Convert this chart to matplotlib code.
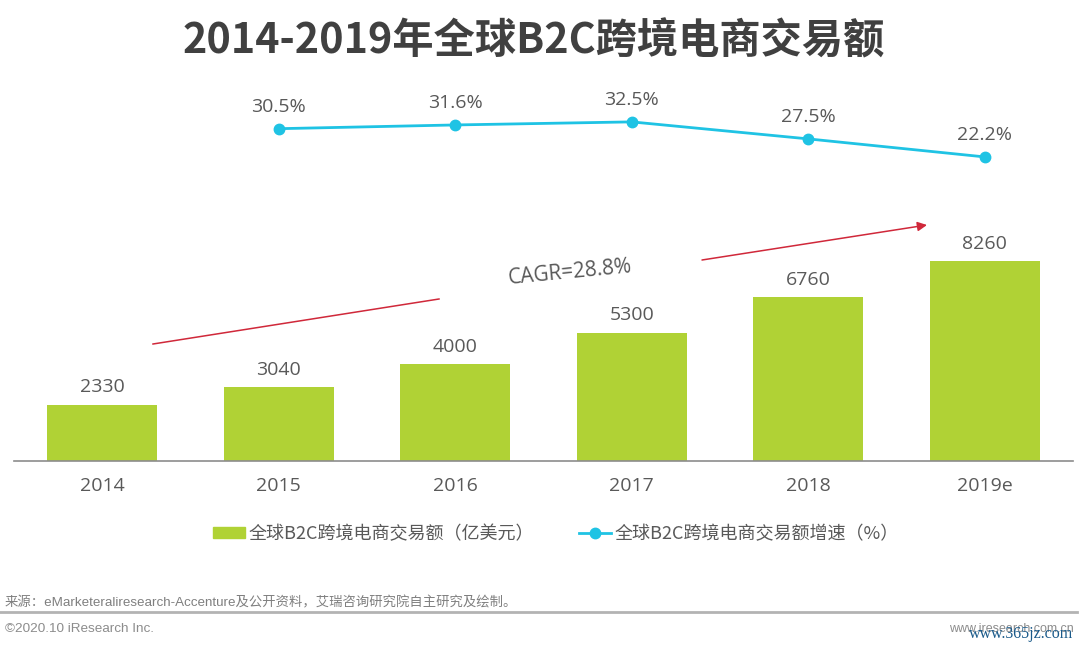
import matplotlib.pyplot as plt
from matplotlib.lines import Line2D

plt.rcParams['font.family'] = ['Noto Sans CJK SC', 'DejaVu Sans']

years = ["2014", "2015", "2016", "2017", "2018", "2019e"]
amount = [2330, 3040, 4000, 5300, 6760, 8260]
growth = [30.5, 31.6, 32.5, 27.5, 22.2]
growth_labels = ["30.5%", "31.6%", "32.5%", "27.5%", "22.2%"]

W, H = 1080, 649
GREEN = "#b0d235"
BLUE = "#1fc3e4"
TEXT = "#595959"
NUM_FONT = "Open Sans"
FOOT_FONT = ["Liberation Sans", "Noto Sans CJK SC"]


def fx(px):
    return px / W


def fy(py):
    return 1 - py / H


fig = plt.figure(figsize=(W / 100, H / 100), dpi=100, facecolor="white")
# axes runs from the baseline (y=461) up to y=61
ax = fig.add_axes([fx(14), fy(461), fx(1059), 400 / H])
x = list(range(len(years)))
ax.bar(x, amount, width=0.623, color=GREEN)
ax.set_xlim(-0.5, 5.5)
ax.set_ylim(0, 16520)
ax.set_yticks([])
ax.set_xticks(x)
ax.set_xticklabels(years, fontsize=14, color=TEXT, fontfamily=NUM_FONT)
ax.tick_params(axis="x", length=0, pad=11.5)
for s in ["top", "left", "right"]:
    ax.spines[s].set_visible(False)
ax.spines["bottom"].set_color("#8c8c8c")
ax.spines["bottom"].set_linewidth(1.2)
for i, v in enumerate(amount):
    ax.annotate(str(v), (i, v), xytext=(0, 6), textcoords="offset points",
                ha="center", va="bottom", fontsize=14, color=TEXT, fontfamily=NUM_FONT)

ax2 = ax.twinx()
ax2.set_ylim(-67.2, 50.4)
ax2.set_yticks([])
for s in ax2.spines.values():
    s.set_visible(False)
ax2.plot(x[1:], growth, color=BLUE, lw=2, marker="o", ms=7.5)
for i, v, t in zip(x[1:], growth, growth_labels):
    ax2.annotate(t, (i, v), xytext=(0, 9), textcoords="offset points",
                 ha="center", va="bottom", fontsize=14, color=TEXT, fontfamily=NUM_FONT)

fig.text(fx(534), fy(41), "2014-2019年全球B2C跨境电商交易额", ha="center", va="center",
         fontsize=29.7, fontweight="bold", color="#404040")

# CAGR arrows
fig.add_artist(Line2D([fx(153), fx(439)], [fy(344), fy(299)], color="#d0283a", lw=1.1))
ax.annotate("", xy=(fx(927), fy(225)), xytext=(fx(702), fy(260)), xycoords="figure fraction",
            textcoords="figure fraction",
            arrowprops=dict(arrowstyle="-|>", color="#d0283a", lw=1.1, mutation_scale=14, shrinkA=0, shrinkB=0))
fig.text(fx(570), fy(273), "CAGR=28.8%", ha="center", va="center", rotation=5.5, fontsize=15,
         color=TEXT, fontfamily=NUM_FONT)

handles = [plt.Rectangle((0, 0), 1, 1, color=GREEN),
           Line2D([], [], color=BLUE, lw=2, marker="o", ms=7.5)]
fig.legend(handles, ["全球B2C跨境电商交易额（亿美元）", "全球B2C跨境电商交易额增速（%）"],
           loc="center", bbox_to_anchor=(fx(556), fy(534)), ncol=2, frameon=False,
           fontsize=13, labelcolor=TEXT, columnspacing=2.5, handlelength=1.78, handletextpad=0.2,
           handleheight=0.6)

# footer
fig.text(fx(5), fy(603), "来源：eMarketeraliresearch-Accenture及公开资料，艾瑞咨询研究院自主研究及绘制。",
         ha="left", va="center", fontsize=9.6, color="#7f7f7f", fontfamily=FOOT_FONT)
fig.add_artist(Line2D([0, fx(1077)], [fy(612), fy(612)], color="#b3b3b3", lw=2))
fig.text(fx(5), fy(629), "©2020.10 iResearch Inc.", ha="left", va="center", fontsize=9.7, color="#8c8c8c",
         fontfamily=FOOT_FONT)
fig.text(fx(1074), fy(629), "www.iresearch.com.cn", ha="right", va="center", fontsize=9, color="#8c8c8c",
         fontfamily=FOOT_FONT)
fig.text(fx(1073), fy(634), "www.365jz.com", ha="right", va="center", fontsize=11.5, color="#1a5a8a",
         fontfamily="Liberation Serif")

fig.savefig("out.png", dpi=100)
